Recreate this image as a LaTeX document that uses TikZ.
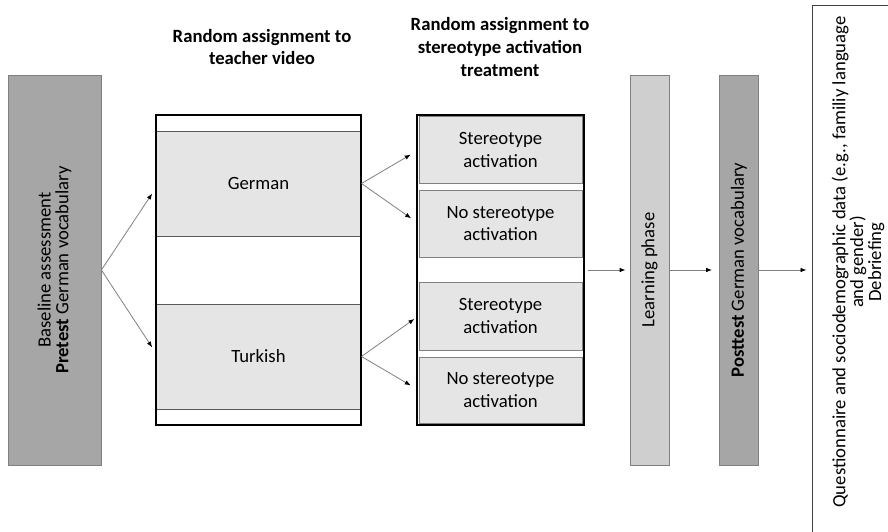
\documentclass[tikz,border=0pt]{standalone}
\usepackage{fontspec}
\setmainfont{Carlito}
\usetikzlibrary{arrows.meta,positioning}
\colorlet{darkFill}{black!35}
\colorlet{lightFill}{black!19}
\colorlet{bandFill}{black!10}
\colorlet{lineGray}{black!50}
\tikzset{
  >={Latex[length=6pt,width=4.5pt,color=black]},
  phase/.style={draw=lineGray, line width=0.8pt, inner sep=0pt, minimum width=39pt, minimum height=390pt},
  band/.style={draw=black!65, fill=bandFill, line width=1pt, inner sep=0pt, minimum width=205pt, minimum height=105pt},
  cond/.style={draw=lineGray, fill=bandFill, line width=1pt, inner sep=0pt, minimum width=163pt, align=center},
  frame/.style={draw=black, line width=2.5pt, inner sep=0pt},
  flow/.style={->, draw=lineGray, line width=0.8pt},
  vtext/.style={rotate=90, align=center, font=\fontsize{18.7}{17.8}\selectfont},
  title/.style={align=center, font=\fontsize{18.7}{22.8}\selectfont\bfseries},
}
\begin{document}
\begin{tikzpicture}[x=1pt,y=-1pt,font=\fontsize{18.7}{22.8}\selectfont]
\clip (0,0) rectangle (888,532);
% headings
\node[title] (head1) at (262,47) {Random assignment to\\teacher video};
\node[title] (head2) at (500,47) {Random assignment to\\stereotype activation\\treatment};
% baseline
\node[phase, fill=darkFill, minimum width=93pt] (base) at (54.5,270) {};
\node[vtext] (baseText) at (base) {Baseline assessment\\\textbf{Pretest} German vocabulary};
% teacher video
\node[band] (german) at (258.5,183.5) {German};
\node[band] (turkish) at (258.5,356.5) {Turkish};
\node[frame, minimum width=205pt, minimum height=310pt] (teacher) at (258.5,270) {};
% stereotype treatment
\node[cond, minimum height=66pt] (stereo1) at (500.5,150) {Stereotype\\activation};
\node[cond, minimum height=67pt] (nostereo1) at (500.5,223.5) {No stereotype\\activation};
\node[cond, minimum height=68pt] (stereo2) at (500.5,316) {Stereotype\\activation};
\node[cond, minimum height=66pt] (nostereo2) at (500.5,390) {No stereotype\\activation};
\node[frame, minimum width=167pt, minimum height=310pt] (treat) at (500.5,270) {};
% learning, posttest, questionnaire
\node[phase, fill=lightFill] (learn) at (649.5,270) {};
\node[vtext] (learnText) at (learn) {Learning phase};
\node[phase, fill=darkFill] (post) at (739,270) {};
\node[vtext] (postText) at (post) {\textbf{Posttest} German vocabulary};
\node[draw=black!75, line width=1pt, inner sep=0pt, minimum width=100pt, minimum height=540pt] (quest) at (862,276) {};
\node[vtext] (questText) at (858,262) {Questionnaire and sociodemographic data (e.g., familiy language\\and gender)\\Debriefing};
% arrows
\draw[flow, shorten >=6pt] (base.east) -- ([yshift=-5pt]german.west);
\draw[flow, shorten >=6pt] (base.east) -- ([yshift=4pt]turkish.west);
\draw[flow, shorten >=9pt] (german.east) -- (stereo1.west);
\draw[flow, shorten >=9pt] (german.east) -- (nostereo1.west);
\draw[flow, shorten >=5pt] (turkish.east) -- (stereo2.west);
\draw[flow, shorten >=9pt] (turkish.east) -- (nostereo2.west);
\draw[flow, shorten <=3pt, shorten >=4pt] (treat.east) -- (learn.west);
\draw[flow, shorten >=7pt] (learn.east) -- (post.west);
\draw[flow, shorten >=5pt] (post.east) -- (quest.west |- post.east);
\end{tikzpicture}
\end{document}
